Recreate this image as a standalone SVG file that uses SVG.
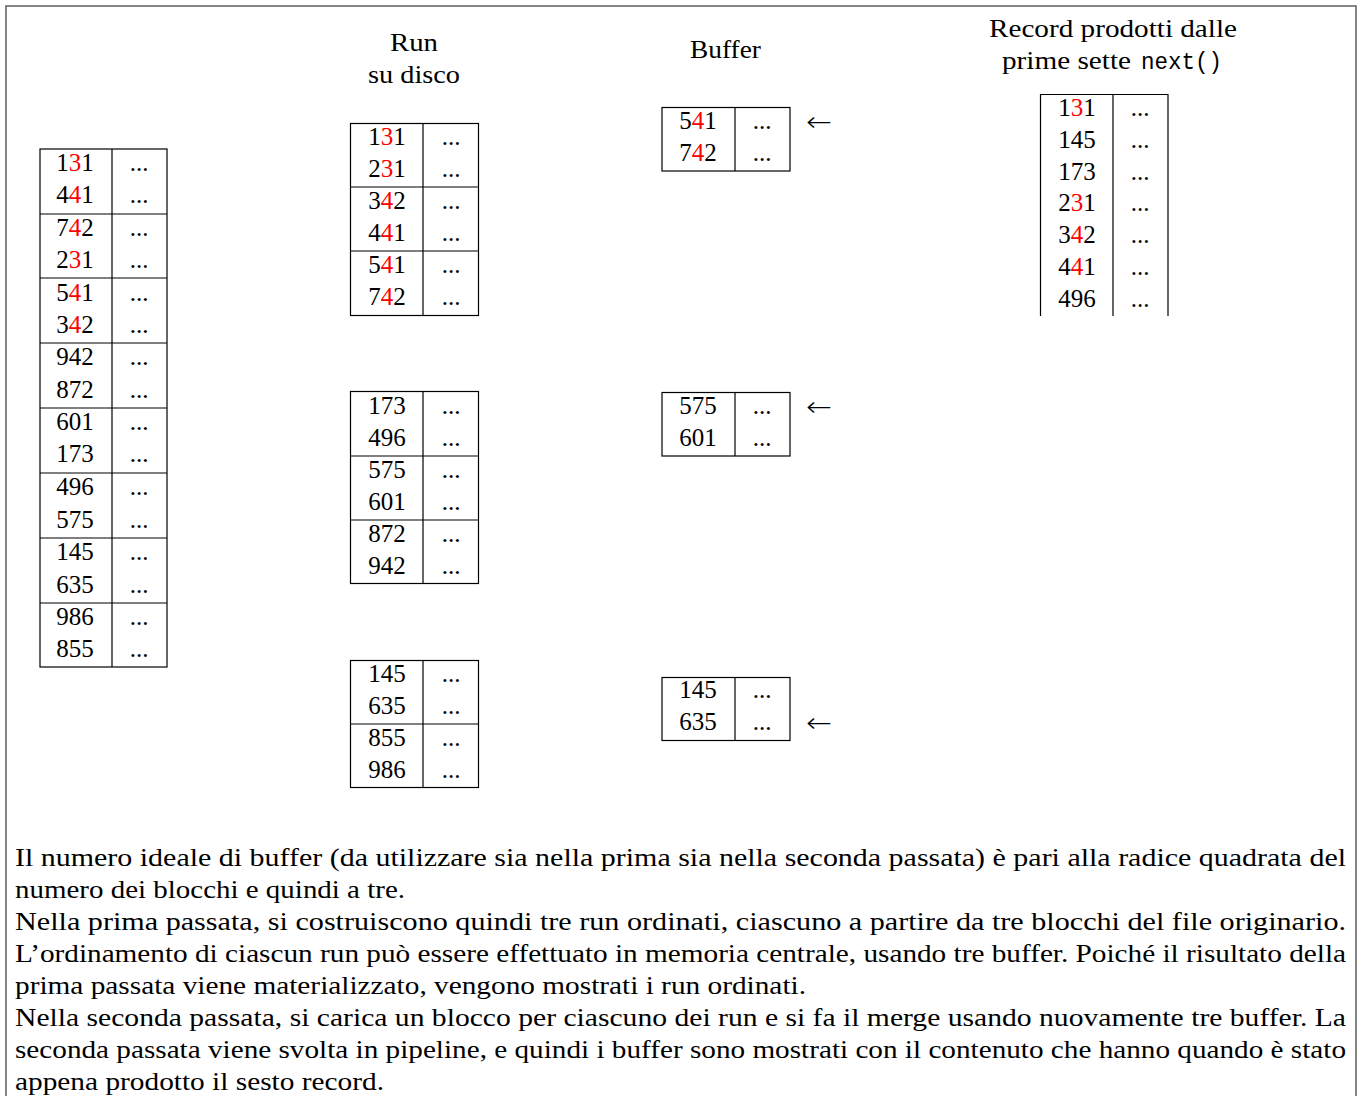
<svg xmlns="http://www.w3.org/2000/svg" width="1358" height="1096" viewBox="0 0 1358 1096">
<style>
text{font-family:"Liberation Serif","Times New Roman",serif;font-size:25px;fill:#000}
.c{text-anchor:middle}
.r{fill:#ff0000}
.tt{font-family:"Liberation Mono","Courier New",monospace;font-size:23px}
.ln{stroke:#000;stroke-width:1.2;fill:none}
.p{font-size:26px}
.h{font-size:26px}
.ar{font-family:"DejaVu Sans",sans-serif;font-size:27px;font-weight:200}
</style>
<rect x="6" y="6" width="1350" height="1100" fill="#fff" stroke="#666" stroke-width="1.6"/>

<g id="headers">
<text class="h" x="390" y="51" textLength="48" lengthAdjust="spacingAndGlyphs">Run</text>
<text class="h" x="368" y="83" textLength="92" lengthAdjust="spacingAndGlyphs">su disco</text>
<text class="h" x="690" y="58" textLength="71" lengthAdjust="spacingAndGlyphs">Buffer</text>
<text class="h" x="989" y="37" textLength="248" lengthAdjust="spacingAndGlyphs">Record prodotti dalle</text>
<text class="h" x="1002" y="69" textLength="129" lengthAdjust="spacingAndGlyphs">prime sette</text>
<text class="tt" x="1141" y="69" textLength="81" lengthAdjust="spacingAndGlyphs">next()</text>
</g>

<g id="file-originale">
<rect class="ln" x="40" y="149" width="127" height="518"/>
<path class="ln" d="M112 149V667M40 214H167M40 278H167M40 343H167M40 408H167M40 473H167M40 538H167M40 603H167"/>
<g class="c">
<text x="75" y="171">1<tspan class="r">3</tspan>1</text><text x="139" y="171">...</text>
<text x="75" y="203">4<tspan class="r">4</tspan>1</text><text x="139" y="203">...</text>
<text x="75" y="236">7<tspan class="r">4</tspan>2</text><text x="139" y="236">...</text>
<text x="75" y="268">2<tspan class="r">3</tspan>1</text><text x="139" y="268">...</text>
<text x="75" y="301">5<tspan class="r">4</tspan>1</text><text x="139" y="301">...</text>
<text x="75" y="333">3<tspan class="r">4</tspan>2</text><text x="139" y="333">...</text>
<text x="75" y="365">942</text><text x="139" y="365">...</text>
<text x="75" y="398">872</text><text x="139" y="398">...</text>
<text x="75" y="430">601</text><text x="139" y="430">...</text>
<text x="75" y="462">173</text><text x="139" y="462">...</text>
<text x="75" y="495">496</text><text x="139" y="495">...</text>
<text x="75" y="528">575</text><text x="139" y="528">...</text>
<text x="75" y="560">145</text><text x="139" y="560">...</text>
<text x="75" y="593">635</text><text x="139" y="593">...</text>
<text x="75" y="625">986</text><text x="139" y="625">...</text>
<text x="75" y="657">855</text><text x="139" y="657">...</text>
</g>
</g>

<g id="run1">
<rect class="ln" x="350.5" y="123.5" width="128" height="192"/>
<path class="ln" d="M423 123V315M350 187H478M350 251H478"/>
<g class="c">
<text x="387" y="145">1<tspan class="r">3</tspan>1</text><text x="451" y="145">...</text>
<text x="387" y="177">2<tspan class="r">3</tspan>1</text><text x="451" y="177">...</text>
<text x="387" y="209">3<tspan class="r">4</tspan>2</text><text x="451" y="209">...</text>
<text x="387" y="241">4<tspan class="r">4</tspan>1</text><text x="451" y="241">...</text>
<text x="387" y="273">5<tspan class="r">4</tspan>1</text><text x="451" y="273">...</text>
<text x="387" y="305">7<tspan class="r">4</tspan>2</text><text x="451" y="305">...</text>
</g>
</g>

<g id="run2">
<rect class="ln" x="350.5" y="391.5" width="128" height="192"/>
<path class="ln" d="M423 391V583M350 456H478M350 520H478"/>
<g class="c">
<text x="387" y="414">173</text><text x="451" y="414">...</text>
<text x="387" y="446">496</text><text x="451" y="446">...</text>
<text x="387" y="478">575</text><text x="451" y="478">...</text>
<text x="387" y="510">601</text><text x="451" y="510">...</text>
<text x="387" y="542">872</text><text x="451" y="542">...</text>
<text x="387" y="574">942</text><text x="451" y="574">...</text>
</g>
</g>

<g id="run3">
<rect class="ln" x="350.5" y="660.5" width="128" height="127"/>
<path class="ln" d="M423 660V788M350 724H478"/>
<g class="c">
<text x="387" y="682">145</text><text x="451" y="682">...</text>
<text x="387" y="714">635</text><text x="451" y="714">...</text>
<text x="387" y="746">855</text><text x="451" y="746">...</text>
<text x="387" y="778">986</text><text x="451" y="778">...</text>
</g>
</g>

<g id="buffer1">
<rect class="ln" x="662" y="107.5" width="128" height="63.5"/>
<path class="ln" d="M735 107V171"/>
<g class="c">
<text x="698" y="129">5<tspan class="r">4</tspan>1</text><text x="762" y="129">...</text>
<text x="698" y="161">7<tspan class="r">4</tspan>2</text><text x="762" y="161">...</text>
</g>
</g>

<g id="buffer2">
<rect class="ln" x="662" y="392.5" width="128" height="63.5"/>
<path class="ln" d="M735 392V456"/>
<g class="c">
<text x="698" y="414">575</text><text x="762" y="414">...</text>
<text x="698" y="446">601</text><text x="762" y="446">...</text>
</g>
</g>

<g id="buffer3">
<rect class="ln" x="662" y="677.5" width="128" height="63"/>
<path class="ln" d="M735 677V740"/>
<g class="c">
<text x="698" y="698">145</text><text x="762" y="698">...</text>
<text x="698" y="730">635</text><text x="762" y="730">...</text>
</g>
</g>

<g id="connectors">
<text class="ar" x="806" y="131" textLength="26" lengthAdjust="spacingAndGlyphs">←</text>
<text class="ar" x="806" y="416" textLength="26" lengthAdjust="spacingAndGlyphs">←</text>
<text class="ar" x="806" y="732" textLength="26" lengthAdjust="spacingAndGlyphs">←</text>
</g>

<g id="output-records">
<path class="ln" d="M1040.5 316V94.5H1168V316M1113 94V316"/>
<g class="c">
<text x="1077" y="116">1<tspan class="r">3</tspan>1</text><text x="1140" y="116">...</text>
<text x="1077" y="148">145</text><text x="1140" y="148">...</text>
<text x="1077" y="180">173</text><text x="1140" y="180">...</text>
<text x="1077" y="211">2<tspan class="r">3</tspan>1</text><text x="1140" y="211">...</text>
<text x="1077" y="243">3<tspan class="r">4</tspan>2</text><text x="1140" y="243">...</text>
<text x="1077" y="275">4<tspan class="r">4</tspan>1</text><text x="1140" y="275">...</text>
<text x="1077" y="307">496</text><text x="1140" y="307">...</text>
</g>
</g>

<g id="description">
<text class="p" x="15" y="866" textLength="1331" lengthAdjust="spacingAndGlyphs">Il numero ideale di buffer (da utilizzare sia nella prima sia nella seconda passata) è pari alla radice quadrata del</text>
<text class="p" x="15" y="898" textLength="390" lengthAdjust="spacingAndGlyphs">numero dei blocchi e quindi a tre.</text>
<text class="p" x="15" y="930" textLength="1331" lengthAdjust="spacingAndGlyphs">Nella prima passata, si costruiscono quindi tre run ordinati, ciascuno a partire da tre blocchi del file originario.</text>
<text class="p" x="15" y="962" textLength="1331" lengthAdjust="spacingAndGlyphs">L’ordinamento di ciascun run può essere effettuato in memoria centrale, usando tre buffer. Poiché il risultato della</text>
<text class="p" x="15" y="994" textLength="791" lengthAdjust="spacingAndGlyphs">prima passata viene materializzato, vengono mostrati i run ordinati.</text>
<text class="p" x="15" y="1026" textLength="1331" lengthAdjust="spacingAndGlyphs">Nella seconda passata, si carica un blocco per ciascuno dei run e si fa il merge usando nuovamente tre buffer. La</text>
<text class="p" x="15" y="1058" textLength="1331" lengthAdjust="spacingAndGlyphs">seconda passata viene svolta in pipeline, e quindi i buffer sono mostrati con il contenuto che hanno quando è stato</text>
<text class="p" x="15" y="1090" textLength="369" lengthAdjust="spacingAndGlyphs">appena prodotto il sesto record.</text>
</g>
</svg>
